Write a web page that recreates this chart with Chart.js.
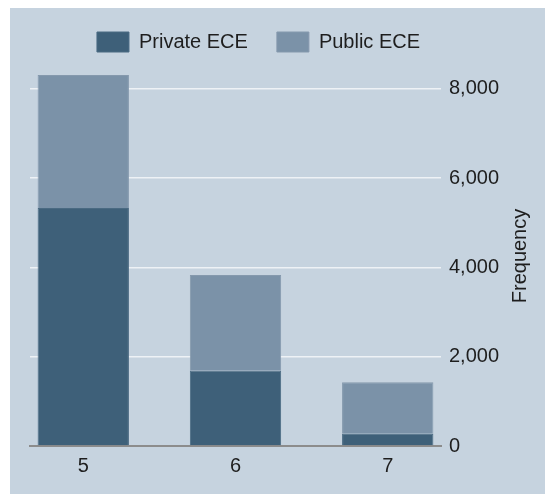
<!DOCTYPE html>
<html>
<head>
<meta charset="utf-8">
<script src="https://cdn.jsdelivr.net/npm/chart.js@4/dist/chart.umd.min.js"></script>
<style>
  html, body { margin: 0; padding: 0; background: #ffffff; overflow: hidden; }
  #wrap { position: absolute; left: 10px; top: 8px; width: 535px; height: 486px; background: #c6d3df; }
  canvas { display: block; }
</style>
</head>
<body>
<div id="wrap"><canvas id="c" width="535" height="486"></canvas></div>
<script>
// ---- data ----
const categories = [5, 6, 7];
const seriesNames = ["Private ECE", "Public ECE"];
const privateECE = [5330, 1690, 275];
const publicECE = [2980, 2140, 1155];
const yTicks = [0, 2000, 4000, 6000, 8000];
const yTitle = "Frequency";

const colors = { priv: "#3e6079", pub: "#7b92a8" };

const yTitlePlugin = {
  id: "yTitle",
  afterLayout(chart) {
    // shift the legend so it is centred like the reference
    if (chart.legend) { chart.legend.left -= 29; chart.legend.right -= 29; }
  },
  afterDraw(chart) {
    const ctx = chart.ctx;
    const ys = chart.scales.y;
    ctx.save();
    ctx.translate(510, (ys.top + ys.bottom) / 2 + 2);
    ctx.rotate(-Math.PI / 2);
    ctx.font = "20px 'Liberation Sans', Arial, sans-serif";
    ctx.fillStyle = "#1e1e1e";
    ctx.textAlign = "center";
    ctx.textBaseline = "middle";
    ctx.fillText(yTitle, 0, 0);
    ctx.restore();
  }
};

Chart.defaults.font.family = "'Liberation Sans', Arial, sans-serif";
Chart.defaults.font.size = 20;
Chart.defaults.color = "#1e1e1e";

new Chart(document.getElementById("c"), {
  type: "bar",
  data: {
    datasets: [
      {
        label: seriesNames[0],
        data: categories.map((c, i) => ({ x: c, y: privateECE[i] })),
        backgroundColor: colors.priv,
        borderColor: "#4a6a82",
        borderWidth: 1,
        barPercentage: 0.6,
        categoryPercentage: 1.0
      },
      {
        label: seriesNames[1],
        data: categories.map((c, i) => ({ x: c, y: publicECE[i] })),
        backgroundColor: colors.pub,
        borderColor: "#8599ad",
        borderWidth: 1,
        barPercentage: 0.6,
        categoryPercentage: 1.0
      }
    ]
  },
  options: {
    responsive: false,
    animation: false,
    layout: { padding: { left: 20, right: 0, top: -5, bottom: 8 } },
    plugins: {
      legend: {
        position: "top",
        labels: { boxWidth: 32, boxHeight: 20, padding: 29, font: { size: 20 }, color: "#1e1e1e" }
      },
      tooltip: { enabled: false }
    },
    scales: {
      x: {
        type: "linear",
        stacked: true,
        offset: false,
        min: 4.65,
        max: 7.35,
        afterBuildTicks: (axis) => { axis.ticks = categories.map(v => ({ value: v })); },
        afterFit: (axis) => { axis.height = 40; },
        grid: { display: false, drawTicks: false },
        border: { display: true, color: "#8c8c8c", width: 2 },
        ticks: { padding: 8, color: "#1e1e1e", font: { size: 20 }, callback: (v) => String(v) }
      },
      y: {
        position: "right",
        stacked: true,
        min: 0,
        max: 8600,
        afterBuildTicks: (axis) => { axis.ticks = yTicks.map(v => ({ value: v })); },
        afterFit: (axis) => { axis.width = 104; },
        grid: {
          drawTicks: false,
          color: (ctx) => (ctx.tick && ctx.tick.value === 0 ? "rgba(0,0,0,0)" : "#eef2f6"),
          lineWidth: 1.5
        },
        border: { display: false },
        ticks: { padding: 8, color: "#1e1e1e", font: { size: 20 } }
      }
    }
  },
  plugins: [yTitlePlugin]
});
</script>
</body>
</html>
